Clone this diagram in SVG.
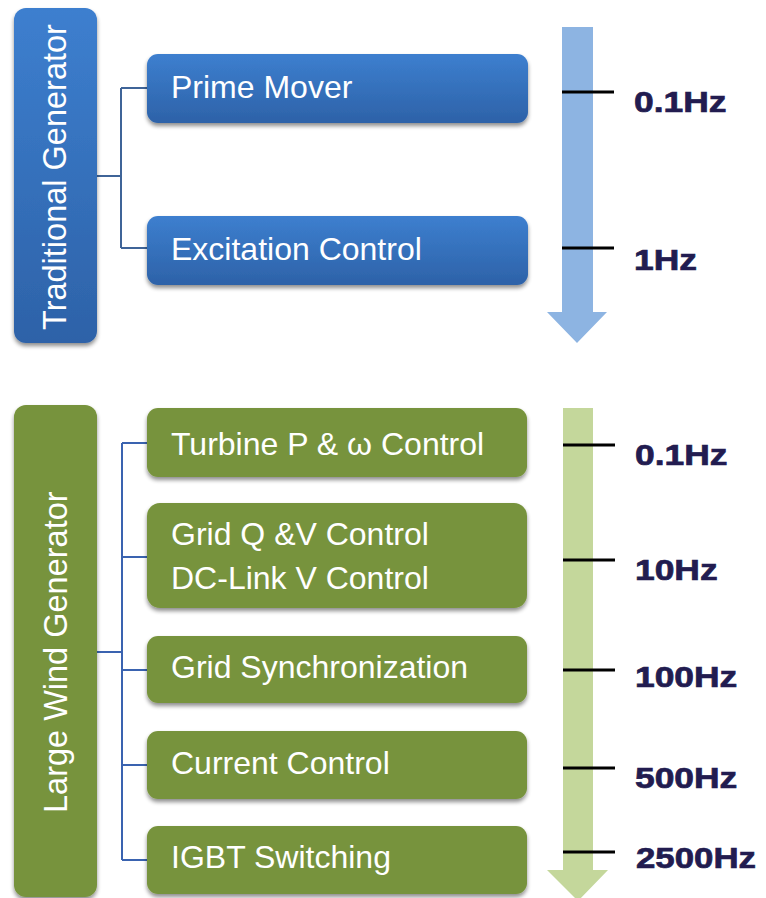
<svg xmlns="http://www.w3.org/2000/svg" width="766" height="898" viewBox="0 0 766 898">
<defs>
<linearGradient id="blueGrad" x1="0" y1="0" x2="0" y2="1">
<stop offset="0" stop-color="#3d7fcf"/>
<stop offset="1" stop-color="#2d62a8"/>
</linearGradient>
<filter id="shadow" x="-10%" y="-20%" width="120%" height="150%">
<feGaussianBlur in="SourceAlpha" stdDeviation="2"/>
<feOffset dy="3" result="b"/>
<feComponentTransfer><feFuncA type="linear" slope="0.45"/></feComponentTransfer>
<feMerge><feMergeNode/><feMergeNode in="SourceGraphic"/></feMerge>
</filter>
</defs>
<style>
.blue{fill:url(#blueGrad);filter:url(#shadow)}
.green{fill:#77933c;filter:url(#shadow)}
.bt{font-family:"Liberation Sans",Arial,sans-serif;font-size:32px;fill:#ffffff}
.vt{font-family:"Liberation Sans",Arial,sans-serif;font-size:32.5px;fill:#ffffff}
.hz{font-family:"Liberation Sans",Arial,sans-serif;font-size:29.5px;font-weight:bold;fill:#221c50;stroke:#221c50;stroke-width:0.7}
.conn{fill:none;stroke-width:2}
.tick{stroke:#000000;stroke-width:3}
</style>
<rect width="766" height="898" fill="#ffffff"/>

<g id="scale-top">
<polygon points="562,27 593,27 593,312 607,312 577,343 547,312 562,312" fill="#8db4e2"/>
<line class="tick" x1="562" y1="92" x2="614" y2="92"/>
<line class="tick" x1="562" y1="248" x2="614" y2="248"/>
<text class="hz" transform="translate(634,112) scale(1.2,1)">0.1Hz</text>
<text class="hz" transform="translate(634,270) scale(1.2,1)">1Hz</text>
</g>

<g id="scale-bottom">
<polygon points="563,408 593,408 593,870 608,870 578,901 547,870 563,870" fill="#c4d79b"/>
<line class="tick" x1="563" y1="445" x2="615" y2="445"/>
<line class="tick" x1="563" y1="560" x2="615" y2="560"/>
<line class="tick" x1="563" y1="670" x2="615" y2="670"/>
<line class="tick" x1="563" y1="768" x2="615" y2="768"/>
<line class="tick" x1="563" y1="852" x2="615" y2="852"/>
<text class="hz" transform="translate(635,465) scale(1.2,1)">0.1Hz</text>
<text class="hz" transform="translate(635,580) scale(1.2,1)">10Hz</text>
<text class="hz" transform="translate(635,687) scale(1.2,1)">100Hz</text>
<text class="hz" transform="translate(635,788) scale(1.2,1)">500Hz</text>
<text class="hz" transform="translate(636,868) scale(1.18,1)">2500Hz</text>
</g>

<g id="connectors">
<path class="conn" stroke="#3f6498" d="M97,176 H121 M121,88 V248 M121,88 H147 M121,248 H147"/>
<path class="conn" stroke="#3a63b0" d="M97,652 H122 M122,443 V860 M122,443 H147 M122,557 H147 M122,670 H147 M122,765 H147 M122,860 H147"/>
</g>

<g id="traditional-generator">
<rect class="blue" x="14" y="8" width="83" height="335" rx="12"/>
<text class="vt" transform="translate(66,330) rotate(-90)">Traditional Generator</text>
</g>
<g id="prime-mover">
<rect class="blue" x="147" y="54" width="381" height="69" rx="11"/>
<text class="bt" x="171" y="98">Prime Mover</text>
</g>
<g id="excitation-control">
<rect class="blue" x="147" y="216" width="381" height="69" rx="11"/>
<text class="bt" x="171" y="260">Excitation Control</text>
</g>

<g id="large-wind-generator">
<rect class="green" x="14" y="405" width="83" height="492" rx="12"/>
<text class="vt" transform="translate(67,813) rotate(-90)">Large Wind Generator</text>
</g>
<g id="turbine-control">
<rect class="green" x="147" y="408" width="380" height="69" rx="11"/>
<text class="bt" x="171" y="455">Turbine P &amp; ω Control</text>
</g>
<g id="grid-dc-control">
<rect class="green" x="147" y="503" width="380" height="105" rx="13"/>
<text class="bt" x="171" y="545">Grid Q &amp;V Control</text>
<text class="bt" x="171" y="589">DC-Link V Control</text>
</g>
<g id="grid-sync">
<rect class="green" x="147" y="636" width="380" height="67" rx="11"/>
<text class="bt" x="171" y="678">Grid Synchronization</text>
</g>
<g id="current-control">
<rect class="green" x="147" y="731" width="380" height="68" rx="11"/>
<text class="bt" x="171" y="774">Current Control</text>
</g>
<g id="igbt-switching">
<rect class="green" x="147" y="826" width="380" height="68" rx="11"/>
<text class="bt" x="171" y="868">IGBT Switching</text>
</g>
</svg>
